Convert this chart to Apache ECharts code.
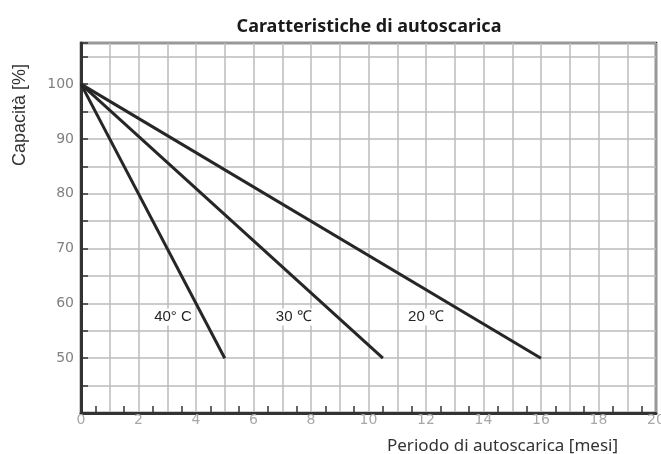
<!DOCTYPE html>
<html>
<head>
<meta charset="utf-8">
<script src="https://cdn.jsdelivr.net/npm/echarts@6/dist/echarts.min.js"></script>
<style>
  html, body { margin: 0; padding: 0; background: #fff; }
  #chart { width: 661px; height: 454px; }
</style>
</head>
<body>
<div id="chart"></div>
<script>
// curves: all start at 100 % and end at 50 %
const tempLabels = ['40° C', '30 ℃', '20 ℃'];
const startMonth = 0;
const startCapacity = 100;
const endMonths = [5, 10.5, 16];
const endCapacity = [50, 50, 50];

// where the temperature labels sit
const labelMonths = [3.2, 7.4, 12.0];
const labelCapacity = [57.5, 57.5, 57.5];

const xTicks = [0, 20, 1];        // min, max, grid step
const yTicks = [40, 107.5, 5];    // min, max, grid step

const chart = echarts.init(document.getElementById('chart'));

const ink = '#262626';

const series = tempLabels.map((name, i) => ({
    name,
    type: 'line',
    symbol: 'none',
    animation: false,
    lineStyle: { color: ink, width: 3 },
    data: [
        [startMonth, startCapacity],
        [endMonths[i], endCapacity[i]],
    ],
    markPoint: {
        symbol: 'rect',
        symbolSize: 0,
        animation: false,
        data: [
            {
                coord: [labelMonths[i], labelCapacity[i]],
                label: {
                    show: true,
                    position: 'inside',
                    formatter: name,
                    color: ink,
                    fontSize: 15,
                    fontFamily: 'Liberation Sans',
                    backgroundColor: '#fff',
                    padding: [1, 2],
                },
            },
        ],
    },
}));

chart.setOption({
    animation: false,
    title: [
        {
            text: 'Caratteristiche di autoscarica',
            left: 364,
            textAlign: 'center',
            top: 13,
            textStyle: {
                fontFamily: 'Noto Sans',
                fontWeight: 'bold',
                fontSize: 18,
                color: '#1a1a1a',
            },
        },
        {
            text: 'Periodo di autoscarica [mesi]',
            left: 382,
            top: 433,
            textStyle: {
                fontFamily: 'Noto Sans',
                fontWeight: 'normal',
                fontSize: 17,
                color: '#333',
            },
        },
    ],
    graphic: [
        {
            type: 'text',
            x: 20,
            y: 115,
            rotation: Math.PI / 2,
            style: {
                text: 'Capacità [%]',
                font: '18px "Liberation Sans"',
                fill: '#333',
                align: 'center',
                verticalAlign: 'middle',
            },
        },
    ],
    grid: {
        left: 81,
        right: 5,
        top: 43,
        bottom: 41,
        outerBoundsMode: 'none',
        show: true,
        borderColor: '#333',
        borderWidth: 2.5,
    },
    xAxis: {
        type: 'value',
        min: xTicks[0],
        max: xTicks[1],
        interval: xTicks[2],
        axisLine: { onZero: false, lineStyle: { color: '#333', width: 3 } },
        axisTick: { show: false, inside: true },
        minorTick: {
            show: true,
            splitNumber: 2,
            length: 7,
            lineStyle: { color: '#333', width: 1.5 },
        },
        splitLine: { lineStyle: { color: '#bbb', width: 1.5 } },
        axisLabel: {
            margin: 0,
            color: '#a8a8a8',
            fontSize: 14,
            fontFamily: 'DejaVu Sans',
            formatter: (v) => (v % 2 === 0 ? String(v) : ''),
        },
    },
    yAxis: [
        {
            type: 'value',
            position: 'left',
            min: yTicks[0],
            max: yTicks[1],
            interval: yTicks[2],
            axisLine: { show: true, onZero: false, lineStyle: { color: '#333', width: 3 } },
            axisTick: { show: false },
            splitLine: { lineStyle: { color: '#bbb', width: 1.5 } },
            axisLabel: {
                margin: 7,
                color: '#808080',
                fontSize: 14,
                fontFamily: 'DejaVu Sans',
                formatter: (v) => (v % 10 === 0 && v >= 50 && v <= 100 ? String(v) : ''),
            },
        },
        {
            // tick marks half way between grid lines (shifted by 2.5)
            type: 'value',
            position: 'left',
            min: yTicks[0] - 42.5,
            max: yTicks[1] - 42.5,
            interval: yTicks[2],
            axisLine: { show: false, onZero: false },
            axisTick: {
                show: true,
                inside: true,
                length: 7,
                lineStyle: { color: '#333', width: 1.5 },
            },
            splitLine: { show: false },
            axisLabel: { show: false },
        },
    ],
    series,
});

window.addEventListener('resize', chart.resize);
</script>
</body>
</html>
